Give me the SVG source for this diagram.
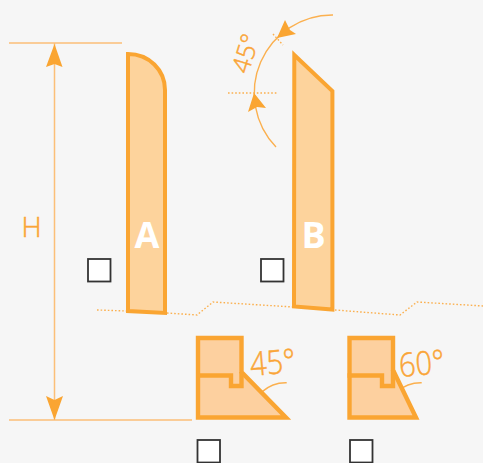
<svg xmlns="http://www.w3.org/2000/svg" width="483" height="463" viewBox="0 0 483 463">
<style>
.bg{fill:#f6f6f6}
.shape{fill:#fdd39c;stroke:#faa532;stroke-width:4;stroke-linejoin:miter}
.corner{fill:#fdd09f;stroke:#faa532;stroke-width:4.400;stroke-linejoin:miter}
.inner{fill:none;stroke:#faa532;stroke-width:4.400}
.dim{fill:none;stroke:#fcbf78;stroke-width:1.500}
.arc{fill:none;stroke:#fbb04f;stroke-width:1.400}
.dot{fill:none;stroke:#fbb04f;stroke-width:1.400;stroke-dasharray:1.600 2}
.head{fill:#faa532}
.box{fill:#fff;stroke:#333;stroke-width:1.800}
.lbl{font-family:"Open Sans",sans-serif;font-weight:300;fill:#faa537;stroke:#faa537;stroke-width:.5}
.big{font-family:"Open Sans",sans-serif;font-weight:700;font-size:36px;fill:#fff;text-anchor:middle}
</style>
<rect class="bg" width="483" height="463"/>
<g id="connectors">
<path class="dim" d="M9 43H122M9 420H192M54.500 43V420"/>
<path class="head" d="M54.500 44L62.500 67L54.500 64L46 67ZM54.500 420L46 396L54.500 400L63 396Z"/>
<path class="dot" d="M97 310L127 311M167 313L197 315L213 302L293 307M335 310L400 315L417 302L483 306M228 93H278M273 34L283 45"/>
<path class="arc" d="M333 15A78 78 0 0 0 276 147"/>
<path class="head" d="M277 38L285 20L290 30L296 34ZM254 93L248 112L257 107L266 108Z"/>
<path class="arc" d="M286.700 382.700A35 35 0 0 0 250.700 415"/>
<path class="head" d="M259 396L253.500 399L256.500 400.500L258 403ZM250.700 415L248.500 408.500L251 410L254 409Z"/>
<path class="arc" d="M421.700 382.700A36 36 0 0 0 385 415"/>
<path class="head" d="M399 390.700L393.500 393L396.500 394.500L397.500 397ZM385 415L383 408.500L385.500 410L388.500 409Z"/>
</g>
<g id="node-a">
<path class="shape" d="M128 54C149 54 165 70 165 90V313L128 311Z"/>
<text class="big" x="147" y="248">A</text>
</g>
<g id="node-b">
<path class="shape" d="M294.300 55L332.400 91V309.500L294 306.500Z"/>
<text class="big" x="313.500" y="248">B</text>
</g>
<g id="corner-45">
<path class="corner" d="M198 338H241.500V372L286 417.500H198Z"/>
<path class="inner" d="M196 375.500H231V386H241.500V372"/>
<text class="lbl" font-size="33" transform="translate(251 376) rotate(-5) scale(.88 1)">45°</text>
</g>
<g id="corner-60">
<path class="corner" d="M349.500 338H393V370L416 417.500H349.500Z"/>
<path class="inner" d="M347.500 375.500H382V386H393V370"/>
<text class="lbl" font-size="33" transform="translate(400 377) rotate(-5) scale(.88 1)">60°</text>
</g>
<g id="labels">
<text class="lbl" font-size="28" x="31.500" y="237" text-anchor="middle">H</text>
<text class="lbl" font-size="25" text-anchor="middle" transform="translate(254 56) rotate(-73)">45°</text>
</g>
<g id="checkboxes">
<rect class="box" x="88" y="259" width="22.500" height="22.500"/>
<rect class="box" x="261" y="259" width="22.500" height="22.500"/>
<rect class="box" x="197.500" y="440" width="22.500" height="22.500"/>
<rect class="box" x="350" y="440" width="22.500" height="22.500"/>
</g>
</svg>
